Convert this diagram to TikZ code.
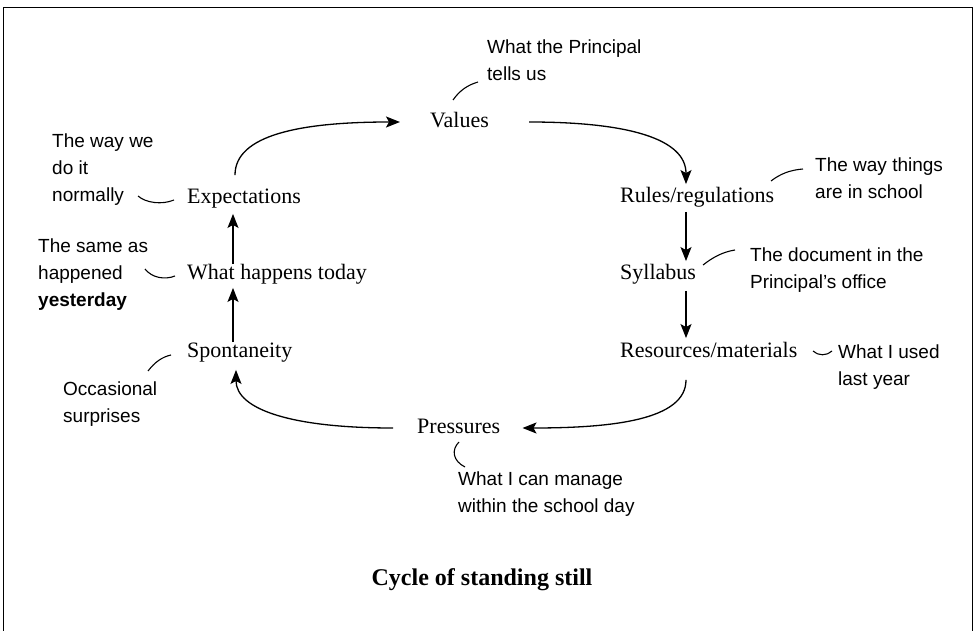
\documentclass[tikz,border=0pt]{standalone}
\usepackage{fontspec}
\setmainfont{Liberation Serif}
\newfontfamily\handfont{Liberation Sans}
\usetikzlibrary{arrows.meta}
\begin{document}
\begin{tikzpicture}[x=1pt,y=-1pt,
  main/.style={font=\fontsize{22}{26}\selectfont, inner sep=0pt, anchor=west, text height=15pt, text depth=4.5pt},
  note/.style={font=\handfont\fontsize{19}{27}\selectfont, inner sep=0pt, anchor=north west, align=left},
  arr/.style={line width=1.3pt, -{Stealth[length=14pt,width=11pt,inset=3pt]}},
  lead/.style={line width=1.1pt},
]
\useasboundingbox (0,0) rectangle (975,631);
\draw[line width=1pt] (3,631) -- (3,8) -- (972,8) -- (972,631);

% main nodes
\node[main] (val) at (430,122) {Values};
\node[main] (rul) at (620,197) {Rules/regulations};
\node[main] (syl) at (620,274) {Syllabus};
\node[main] (res) at (620,352) {Resources/materials};
\node[main] (pre) at (417,428) {Pressures};
\node[main] (spo) at (187,352) {Spontaneity};
\node[main] (wha) at (187,274) {What happens today};
\node[main] (exp) at (187,198) {Expectations};

% cycle arrows
\draw[arr] ([xshift=48pt,yshift=13pt]exp.north west) .. controls +(0,-40) and +(-100,0) .. ([xshift=-30pt]val.west);
\draw[arr] ([xshift=40pt]val.east) .. controls +(100,0) and +(0,-45) .. ([xshift=66pt,yshift=3pt]rul.north west);
\draw[arr, shorten <=5pt, shorten >=3pt] ([xshift=66pt]rul.south west) -- ([xshift=66pt]syl.north west);
\draw[arr, shorten <=7pt, shorten >=4pt] ([xshift=66pt]syl.south west) -- ([xshift=66pt]res.north west);
\draw[arr] ([xshift=66pt,yshift=-18pt]res.south west) .. controls +(0,40) and +(90,0) .. ([xshift=22pt]pre.east);
\draw[arr] ([xshift=-24pt]pre.west) .. controls +(-100,0) and +(0,40) .. ([xshift=49pt,yshift=-8pt]spo.south west);
\draw[arr, shorten >=4pt] ([xshift=46pt]spo.north west) -- ([xshift=46pt]wha.south west);
\draw[arr, shorten >=6pt] ([xshift=46pt]wha.north west) -- ([xshift=46pt]exp.south west);

% annotations
\node[note] (n1) at (487,40) {What the Principal\\tells us};
\node[note] (n2) at (815,158) {The way things\\are in school};
\node[note] (n3) at (750,248) {The document in the\\Principal’s office};
\node[note] (n4) at (838,345) {What I used\\last year};
\node[note] (n5) at (458,472) {What I can manage\\within the school day};
\node[note] (n6) at (63,382) {Occasional\\surprises};
\node[note] (n7) at (38,239) {The same as\\happened\\{\bfseries yesterday}};
\node[note] (n8) at (52,134) {The way we\\do it\\normally};

% leader lines
\draw[lead] (453,100) .. controls (460,90) and (468,85) .. (478,82);
\draw[lead] (771,181) .. controls (780,174) and (790,170) .. (803,169);
\draw[lead] (703,265) .. controls (712,258) and (722,252) .. (735,250);
\draw[lead] (813,351) .. controls (818,356) and (827,356) .. (832,351);
\draw[lead] (459,442) .. controls (451,450) and (453,461) .. (465,467);
\draw[lead] (148,371) .. controls (155,362) and (162,357) .. (171,355);
\draw[lead] (145,269) .. controls (152,278) and (165,280) .. (175,276);
\draw[lead] (138,196) .. controls (146,203) and (162,205) .. (174,200);

% title
\node[font=\bfseries\fontsize{24}{28}\selectfont] (title) at (482,580) {Cycle of standing still};
\end{tikzpicture}
\end{document}
